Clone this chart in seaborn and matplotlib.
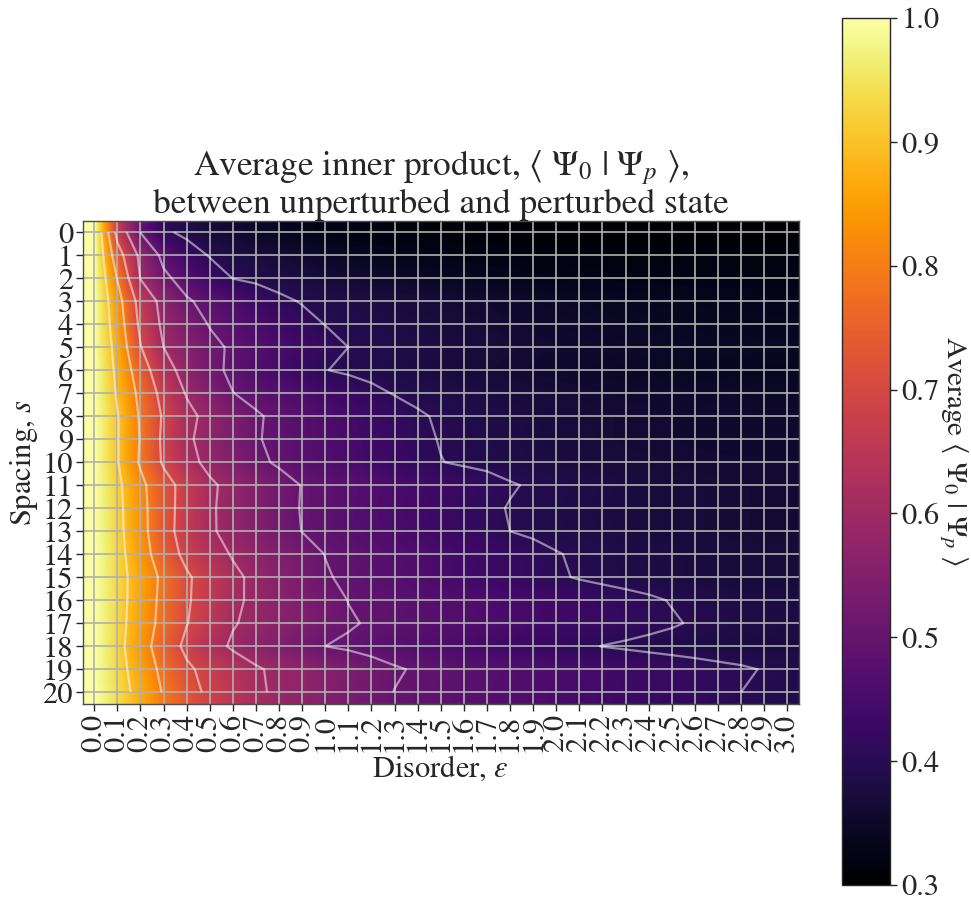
import numpy as np
import matplotlib
matplotlib.use("Agg")
import matplotlib.pyplot as plt
import seaborn as sns

# disorder values (columns) and spacings (rows)
disorder = [round(0.1 * i, 1) for i in range(31)]
spacing = list(range(21))
cbar_ticks = [0.3, 0.4, 0.5, 0.6, 0.7, 0.8, 0.9, 1.0]
contour_levels = [0.4, 0.5, 0.6, 0.7, 0.8, 0.9]

# average <psi_0|psi_p>, one row per spacing
overlap = [
    [1.000,0.668,0.498,0.411,0.386,0.371,0.359,0.349,0.340,0.333,0.327,0.322,0.318,0.315,0.312,0.310,0.309,0.308,0.307,0.306,0.306,0.305,0.305,0.305,0.305,0.305,0.305,0.305,0.305,0.305,0.305],
    [1.000,0.741,0.579,0.479,0.431,0.396,0.384,0.374,0.365,0.357,0.350,0.344,0.339,0.335,0.331,0.328,0.326,0.324,0.322,0.321,0.320,0.319,0.319,0.318,0.318,0.318,0.318,0.318,0.318,0.318,0.318],
    [1.000,0.796,0.597,0.516,0.470,0.433,0.399,0.390,0.382,0.375,0.368,0.362,0.356,0.351,0.347,0.343,0.340,0.337,0.334,0.332,0.330,0.329,0.328,0.327,0.326,0.326,0.325,0.325,0.325,0.325,0.325],
    [1.000,0.836,0.664,0.572,0.508,0.480,0.457,0.433,0.410,0.397,0.391,0.386,0.380,0.375,0.371,0.367,0.362,0.359,0.355,0.352,0.349,0.346,0.344,0.342,0.340,0.339,0.337,0.336,0.336,0.335,0.335],
    [1.000,0.851,0.681,0.583,0.537,0.496,0.476,0.455,0.435,0.415,0.399,0.393,0.387,0.382,0.378,0.373,0.369,0.365,0.361,0.358,0.355,0.352,0.349,0.347,0.345,0.344,0.342,0.341,0.341,0.340,0.340],
    [1.000,0.868,0.704,0.600,0.559,0.518,0.490,0.472,0.454,0.436,0.418,0.400,0.394,0.389,0.384,0.379,0.375,0.371,0.367,0.363,0.360,0.357,0.355,0.353,0.351,0.349,0.347,0.346,0.346,0.345,0.345],
    [1.000,0.881,0.748,0.634,0.569,0.519,0.487,0.465,0.444,0.422,0.401,0.394,0.389,0.384,0.379,0.374,0.370,0.366,0.362,0.358,0.355,0.352,0.350,0.347,0.345,0.344,0.342,0.341,0.341,0.340,0.340],
    [1.000,0.891,0.777,0.669,0.594,0.547,0.501,0.485,0.470,0.455,0.439,0.424,0.409,0.398,0.392,0.387,0.382,0.378,0.374,0.370,0.367,0.363,0.361,0.358,0.356,0.354,0.353,0.352,0.351,0.350,0.350],
    [1.000,0.905,0.790,0.690,0.622,0.576,0.541,0.506,0.488,0.474,0.460,0.446,0.432,0.418,0.404,0.396,0.391,0.386,0.381,0.377,0.373,0.370,0.367,0.364,0.362,0.360,0.358,0.357,0.356,0.355,0.355],
    [1.000,0.905,0.795,0.682,0.612,0.572,0.538,0.504,0.488,0.475,0.462,0.449,0.436,0.422,0.409,0.398,0.393,0.388,0.383,0.378,0.374,0.371,0.367,0.364,0.362,0.360,0.358,0.357,0.356,0.355,0.355],
    [1.000,0.905,0.789,0.689,0.625,0.580,0.547,0.513,0.492,0.479,0.466,0.453,0.440,0.427,0.414,0.401,0.395,0.391,0.386,0.382,0.378,0.375,0.372,0.369,0.367,0.365,0.363,0.362,0.361,0.360,0.360],
    [1.000,0.919,0.822,0.734,0.667,0.612,0.578,0.551,0.523,0.498,0.488,0.477,0.467,0.456,0.445,0.435,0.424,0.414,0.403,0.396,0.391,0.386,0.381,0.378,0.374,0.371,0.369,0.367,0.366,0.365,0.365],
    [1.000,0.923,0.829,0.734,0.665,0.609,0.576,0.548,0.520,0.497,0.485,0.474,0.463,0.452,0.440,0.429,0.418,0.407,0.398,0.393,0.388,0.383,0.380,0.376,0.373,0.371,0.369,0.367,0.366,0.365,0.365],
    [1.000,0.925,0.832,0.732,0.663,0.609,0.578,0.551,0.524,0.499,0.488,0.477,0.466,0.455,0.444,0.433,0.422,0.411,0.400,0.394,0.389,0.385,0.381,0.377,0.374,0.371,0.369,0.367,0.366,0.365,0.365],
    [1.000,0.930,0.843,0.747,0.678,0.633,0.594,0.570,0.546,0.522,0.499,0.489,0.480,0.470,0.460,0.450,0.441,0.431,0.421,0.412,0.402,0.395,0.390,0.385,0.381,0.378,0.375,0.373,0.371,0.370,0.370],
    [1.000,0.933,0.859,0.781,0.711,0.662,0.616,0.583,0.557,0.531,0.504,0.492,0.482,0.473,0.463,0.453,0.444,0.434,0.424,0.415,0.405,0.397,0.391,0.386,0.382,0.378,0.375,0.373,0.371,0.370,0.370],
    [1.000,0.933,0.856,0.776,0.709,0.660,0.614,0.585,0.563,0.541,0.519,0.499,0.492,0.485,0.477,0.470,0.463,0.456,0.449,0.442,0.434,0.427,0.420,0.413,0.406,0.398,0.391,0.385,0.381,0.379,0.378],
    [1.000,0.931,0.851,0.771,0.703,0.654,0.605,0.583,0.563,0.544,0.524,0.505,0.495,0.488,0.481,0.474,0.467,0.460,0.453,0.446,0.439,0.432,0.425,0.418,0.411,0.404,0.396,0.391,0.386,0.384,0.383],
    [1.000,0.927,0.841,0.752,0.681,0.629,0.590,0.568,0.545,0.523,0.500,0.492,0.483,0.475,0.466,0.458,0.450,0.441,0.433,0.424,0.416,0.408,0.399,0.394,0.389,0.385,0.381,0.378,0.377,0.375,0.375],
    [1.000,0.933,0.856,0.777,0.714,0.674,0.641,0.607,0.587,0.571,0.554,0.538,0.521,0.505,0.495,0.489,0.482,0.476,0.469,0.463,0.456,0.450,0.444,0.437,0.431,0.424,0.418,0.411,0.405,0.398,0.392],
    [1.000,0.939,0.871,0.793,0.732,0.683,0.647,0.611,0.588,0.570,0.552,0.534,0.516,0.499,0.493,0.486,0.479,0.473,0.466,0.460,0.453,0.446,0.440,0.433,0.426,0.420,0.413,0.407,0.400,0.395,0.390],
]


def main():
    sns.set_style("ticks")
    plt.rcParams["font.family"] = "STIXGeneral"
    plt.rcParams["mathtext.fontset"] = "stix"

    data = np.array(overlap)
    cmap = sns.color_palette("inferno", as_cmap=True)

    fig = plt.figure(figsize=(9.71, 9.19), dpi=100)
    ax = fig.add_axes([0.0852, 0.2342, 0.7375, 0.5256])
    cax = fig.add_axes([0.8672, 0.037, 0.0494, 0.9434])

    im = ax.imshow(data, cmap=cmap, vmin=0.3, vmax=1.0,
                   interpolation="bilinear", aspect="auto")
    ax.contour(data, levels=contour_levels, colors="white",
               alpha=0.5, linewidths=1.6, zorder=3)

    ax.set_xticks(range(len(disorder)))
    ax.set_xticklabels([f"{d:.1f}" for d in disorder], rotation=90, fontsize=22)
    ax.set_yticks(spacing)
    ax.set_yticklabels([str(s) for s in spacing], fontsize=22)
    ax.tick_params(length=5, width=1, color="0.15", pad=2)
    ax.grid(True, color="#b0b0b0", linewidth=1.2)
    for sp in ax.spines.values():
        sp.set_color("0.3")
        sp.set_linewidth(1.0)

    ax.set_xlabel(r"Disorder, $\varepsilon$", fontsize=22, labelpad=2)
    ax.set_ylabel(r"Spacing, $s$", fontsize=22, labelpad=2)
    ax.set_title("Average inner product, "
                 r"$\langle\ \Psi_0\ |\ \Psi_p\ \rangle$," "\n"
                 "between unperturbed and perturbed state",
                 fontsize=25.5, pad=3, linespacing=1.05)

    cb = fig.colorbar(im, cax=cax, ticks=cbar_ticks)
    cb.ax.set_yticklabels([f"{t:.1f}" for t in cbar_ticks], fontsize=22)
    cb.ax.tick_params(length=5, width=1, pad=3)
    cb.outline.set_linewidth(1.0)
    cb.set_label(r"Average $\langle\ \Psi_0\ |\ \Psi_p\ \rangle$",
                 rotation=270, fontsize=21, labelpad=22)

    fig.savefig("out.png", dpi=100)
    plt.close(fig)


if __name__ == "__main__":
    main()
